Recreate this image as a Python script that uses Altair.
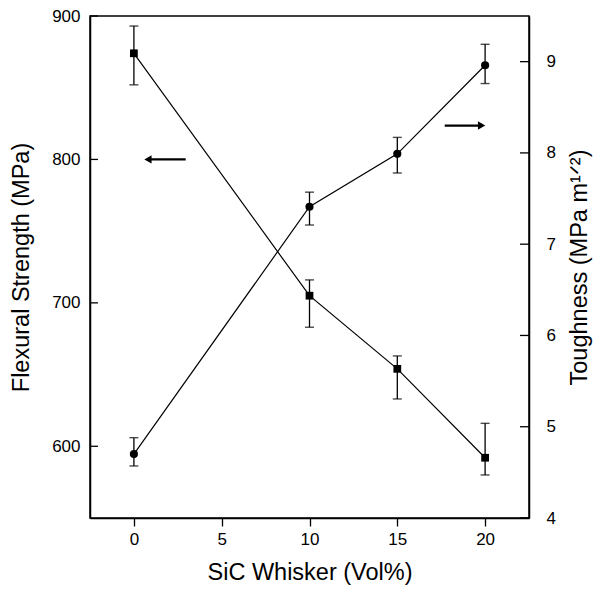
import altair as alt
import pandas as pd

# ---- data ----
whisker = [0, 10, 15, 20]
strength = [874, 705, 654, 592]
strength_lo = [852, 683, 633, 580]
strength_hi = [893, 716, 663, 616]
toughness = [4.70, 7.41, 7.99, 8.96]
toughness_lo = [4.57, 7.21, 7.78, 8.76]
toughness_hi = [4.88, 7.57, 8.17, 9.19]

strength_ticks = [600, 700, 800, 900]
toughness_ticks = [4, 5, 6, 7, 8, 9]
x_ticks = [0, 5, 10, 15, 20]

# arrows (data units): left arrow points to strength axis, right arrow to toughness axis
arrow_left_x = [0.8, 2.95]
arrow_left_y = [800, 800]
arrow_right_x = [17.7, 19.8]
arrow_right_y = [8.30, 8.30]

W, H = 439, 502
FONT = "Liberation Sans"
TITLE_SIZE = 23.5
LABEL_SIZE = 17

df = pd.DataFrame({
    "x": whisker, "s": strength, "slo": strength_lo, "shi": strength_hi,
    "t": toughness, "tlo": toughness_lo, "thi": toughness_hi,
})
df_sticks = pd.DataFrame({"v": strength_ticks})
df_tticks = pd.DataFrame({"v": toughness_ticks})
df_al = pd.DataFrame({"x": arrow_left_x, "y": arrow_left_y})
df_ar = pd.DataFrame({"x": arrow_right_x, "y": arrow_right_y})

xscale = alt.Scale(domain=[-2.5, 22.5], nice=False, zero=False)
sscale = alt.Scale(domain=[550, 900], nice=False, zero=False)
tscale = alt.Scale(domain=[4, 9.5], nice=False, zero=False)

xaxis = alt.Axis(values=x_ticks, title="SiC Whisker (Vol%)", tickSize=8, labelPadding=5,
                 labelFontSize=LABEL_SIZE, titleFontSize=TITLE_SIZE, titleFontWeight="normal",
                 titleY=61, titleBaseline="alphabetic", grid=False)

saxis = alt.Axis(values=strength_ticks, title="Flexural Strength (MPa)", orient="left",
                 tickSize=0, labelPadding=10, labelFontSize=LABEL_SIZE, titleFontSize=TITLE_SIZE,
                 titleFontWeight="normal", titleX=-62, titleY=H / 2, titleAngle=270,
                 titleAlign="center", titleBaseline="alphabetic", grid=False, labelFlush=False)

taxis = alt.Axis(values=toughness_ticks, title="Toughness (MPa m¹ᐟ²)", orient="right",
                 tickSize=0, labelPadding=17, labelFontSize=LABEL_SIZE, titleFontSize=TITLE_SIZE,
                 titleFontWeight="normal", titleX=57, titleY=H / 2, titleAngle=270,
                 titleAlign="center", titleBaseline="alphabetic", grid=False, labelFlush=False)

base = alt.Chart(df)
X = alt.X("x:Q", scale=xscale, axis=xaxis)


def SY(f):
    return alt.Y(f, scale=sscale, axis=saxis)


def TY(f):
    return alt.Y(f, scale=tscale, axis=taxis)


# strength group (squares, left axis)
s_line = base.mark_line(color="black", strokeWidth=1.2).encode(x=X, y=SY("s:Q"))
s_rule = base.mark_rule(color="black", strokeWidth=1.3).encode(x=X, y=SY("slo:Q"), y2="shi:Q")
s_cap_lo = base.mark_tick(orient="horizontal", size=9, thickness=1.4, color="black").encode(
    x=X, y=SY("slo:Q"))
s_cap_hi = base.mark_tick(orient="horizontal", size=9, thickness=1.4, color="black").encode(
    x=X, y=SY("shi:Q"))
s_pts = base.mark_point(shape="square", filled=True, size=60, color="black", opacity=1).encode(
    x=X, y=SY("s:Q"))
s_ticks = alt.Chart(df_sticks).mark_rule(color="black", strokeWidth=1.3).encode(
    x=alt.value(0), x2=alt.value(8), y=SY("v:Q"))
al_line = alt.Chart(df_al).mark_line(color="black", strokeWidth=2.2).encode(x=X, y=SY("y:Q"))
al_head = alt.Chart(df_al.iloc[[0]]).mark_point(shape="triangle-left", filled=True, size=70,
                                                 color="black", opacity=1).encode(
    x=X, y=SY("y:Q"))

strength_group = alt.layer(s_line, s_rule, s_cap_lo, s_cap_hi, s_pts, s_ticks, al_line, al_head)

# toughness group (circles, right axis)
t_line = base.mark_line(color="black", strokeWidth=1.2).encode(x=X, y=TY("t:Q"))
t_rule = base.mark_rule(color="black", strokeWidth=1.3).encode(x=X, y=TY("tlo:Q"), y2="thi:Q")
t_cap_lo = base.mark_tick(orient="horizontal", size=9, thickness=1.4, color="black").encode(
    x=X, y=TY("tlo:Q"))
t_cap_hi = base.mark_tick(orient="horizontal", size=9, thickness=1.4, color="black").encode(
    x=X, y=TY("thi:Q"))
t_pts = base.mark_point(shape="circle", filled=True, size=66, color="black", opacity=1).encode(
    x=X, y=TY("t:Q"))
t_ticks = alt.Chart(df_tticks).mark_rule(color="black", strokeWidth=1.3).encode(
    x=alt.value(W - 9), x2=alt.value(W), y=TY("v:Q"))
ar_line = alt.Chart(df_ar).mark_line(color="black", strokeWidth=2.2).encode(x=X, y=TY("y:Q"))
ar_head = alt.Chart(df_ar.iloc[[1]]).mark_point(shape="triangle-right", filled=True, size=70,
                                                 color="black", opacity=1).encode(
    x=X, y=TY("y:Q"))

tough_group = alt.layer(t_line, t_rule, t_cap_lo, t_cap_hi, t_pts, t_ticks, ar_line, ar_head)

chart = alt.layer(strength_group, tough_group).resolve_scale(y="independent").properties(
    width=W, height=H,
    autosize=alt.AutoSizeParams(type="none"),
    padding={"left": 82, "top": 8, "right": 66, "bottom": 67},
    background="white",
).configure_view(
    stroke="black", strokeWidth=1.5
).configure_axis(
    labelFont=FONT, titleFont=FONT, labelColor="black", titleColor="black",
    domainColor="black", domainWidth=1.5, tickColor="black", tickWidth=1.3,
)

chart.save("out.html", embed_options={"renderer": "svg", "actions": False})
